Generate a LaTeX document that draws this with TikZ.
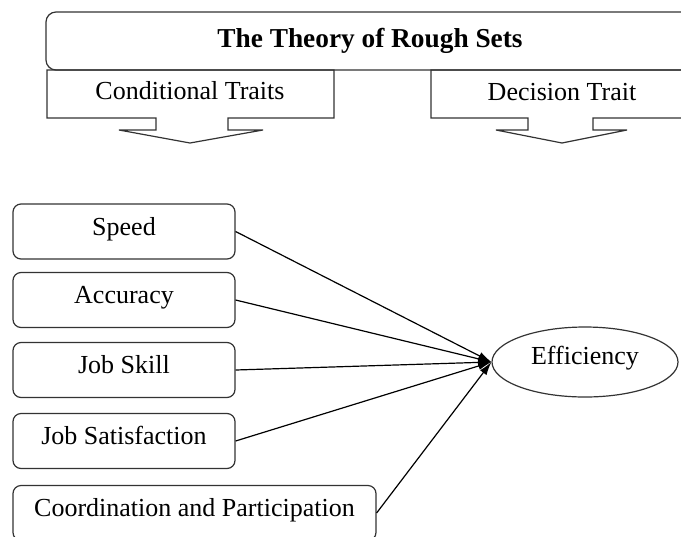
\documentclass[tikz,border=0pt]{standalone}
\usepackage{fontspec}
\setmainfont{Liberation Serif}
\usetikzlibrary{arrows.meta,shapes.geometric}

\begin{document}
\begin{tikzpicture}[x=0.75pt,y=-0.75pt,
  every node/.style={font=\fontsize{19.5}{22}\selectfont, text=black},
  outline/.style={draw=black!80, line width=0.9pt},
  factor/.style={outline, rounded corners=6pt, inner sep=0pt,
    minimum height=41.25pt, text height=10.25pt, text depth=5pt},
  conn/.style={line width=0.9pt, -{Latex[length=10pt,width=6pt]}}]

\useasboundingbox (0,0) rectangle (681,536);
\clip (0,0) rectangle (681,536);

% heading box
\node[outline, rounded corners=7.5pt, inner sep=0pt,
      minimum width=486pt, minimum height=43.5pt,
      text height=14pt, text depth=5pt,
      font=\fontsize{20.5}{24}\selectfont\bfseries] (theory) at (370,41)
      {The Theory of Rough Sets};

% down-arrow callouts under the heading
\draw[outline, line join=miter]
  (47,70) -- (334,70) -- (334,118) -- (228,118) -- (228,130) -- (263,130)
  -- (190,143) -- (119,130) -- (156,130) -- (156,118) -- (47,118) -- cycle;
\node[anchor=base] (cond) at (190,99) {Conditional Traits};

\draw[outline, line join=miter]
  (431,70) -- (693,70) -- (693,118) -- (593,118) -- (593,130) -- (627,130)
  -- (562,143) -- (496,130) -- (528,130) -- (528,118) -- (431,118) -- cycle;
\node[anchor=base] (dec) at (562,100) {Decision Trait};

% conditional traits
\node[factor, minimum width=166.5pt] (speed) at (124,231.5) {Speed};
\node[factor, minimum width=166.5pt] (acc)   at (124,300)   {Accuracy};
\node[factor, minimum width=166.5pt] (skill) at (124,370)   {Job Skill};
\node[factor, minimum width=166.5pt] (sat)   at (124,441)   {Job Satisfaction};
\node[factor, minimum width=272.25pt] (coord) at (194.5,513) {Coordination and Participation};

% decision trait
\node[outline, ellipse, inner sep=0pt, minimum width=139.5pt,
      minimum height=52.5pt, text height=8pt, text depth=5pt] (eff) at (585,362)
      {Efficiency};

% links
\draw[conn] (speed.east) -- (eff.west);
\draw[conn] (acc.east)   -- (eff.west);
\draw[conn] (skill.east) -- (eff.west);
\draw[conn] (sat.east)   -- (eff.west);
\draw[conn] (coord.east) -- (eff.west);
\end{tikzpicture}
\end{document}
